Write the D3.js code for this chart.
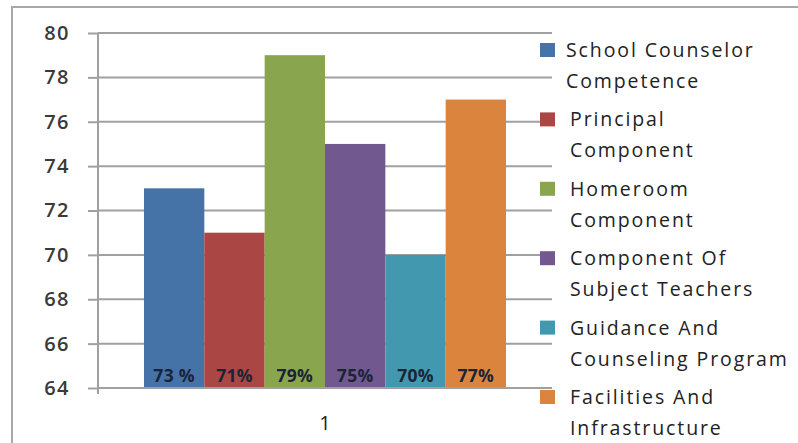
<!DOCTYPE html>
<html>
<head>
<meta charset="utf-8">
<script src="https://cdn.jsdelivr.net/npm/d3@7"></script>
<style>
  body { margin: 0; background: #fff; }
  svg { display: block; }
  text { font-family: "Open Sans", sans-serif; }
</style>
</head>
<body>
<svg width="798" height="443"></svg>
<script>
// data
const categories = ["1"];
const seriesNames = [
  ["School Counselor", "Competence"],
  ["Principal", "Component"],
  ["Homeroom", "Component"],
  ["Component Of", "Subject Teachers"],
  ["Guidance And", "Counseling Program"],
  ["Facilities And", "Infrastructure"]
];
const seriesValues = [73, 71, 79, 75, 70, 77];
const valueLabels = ["73 %", "71%", "79%", "75%", "70%", "77%"];
const colors = ["#4572A7", "#AA4643", "#89A54E", "#71588F", "#4198AF", "#DB843D"];
const yTicks = [64, 66, 68, 70, 72, 74, 76, 78, 80];

const svg = d3.select("svg");

/* -----------------------------
   Frame around the chart
----------------------------- */
svg.append("path")
  .attr("d", "M12,443 L12,7 L798,7")
  .attr("fill", "none")
  .attr("stroke", "#a8a8a8")
  .attr("stroke-width", 2);

/* -----------------------------
   Scales
----------------------------- */
const plotL = 98, plotR = 552, plotT = 33, plotB = 388;

const y = d3.scaleLinear().domain([64, 80]).range([plotB, plotT]);

const x0 = d3.scaleBand()
  .domain(categories)
  .range([plotL, plotR])
  .paddingOuter(0.127);

const x1 = d3.scaleBand()
  .domain(d3.range(seriesValues.length))
  .range([0, x0.bandwidth()]);

/* -----------------------------
   Grid + y axis
----------------------------- */
const yAxis = svg.append("g")
  .attr("transform", `translate(${plotL},0)`)
  .call(d3.axisLeft(y)
    .tickValues(yTicks)
    .tickSize(10)
    .tickPadding(18));

yAxis.select(".domain").remove();
yAxis.selectAll("line")
  .attr("stroke", "#a0a0a0")
  .attr("stroke-width", 2);
yAxis.selectAll("text")
  .attr("fill", "#3a3a3a")
  .style("font-size", "20px")
  .style("font-weight", "600")
  .style("letter-spacing", "1.5px");

svg.append("g")
  .selectAll("line")
  .data(yTicks)
  .enter()
  .append("line")
  .attr("x1", plotL)
  .attr("x2", plotR)
  .attr("y1", d => y(d))
  .attr("y2", d => y(d))
  .attr("stroke", "#a0a0a0")
  .attr("stroke-width", 2);

svg.append("line")
  .attr("x1", plotL).attr("x2", plotL)
  .attr("y1", plotT).attr("y2", plotB + 6)
  .attr("stroke", "#a0a0a0")
  .attr("stroke-width", 2);

/* -----------------------------
   Bars
----------------------------- */
const group = svg.append("g")
  .attr("transform", `translate(${x0(categories[0])},0)`);

group.selectAll("rect")
  .data(seriesValues)
  .enter()
  .append("rect")
  .attr("x", (d, i) => x1(i))
  .attr("y", d => y(d))
  .attr("width", x1.bandwidth())
  .attr("height", d => y(64) - y(d))
  .attr("fill", (d, i) => colors[i]);

group.selectAll(".val")
  .data(valueLabels)
  .enter()
  .append("text")
  .attr("class", "val")
  .attr("x", (d, i) => x1(i) + x1.bandwidth() / 2)
  .attr("y", plotB - 6)
  .attr("text-anchor", "middle")
  .attr("fill", "#1b2436")
  .style("font-size", "17.5px")
  .style("font-weight", "bold")
  .style("letter-spacing", "0.3px")
  .text(d => d);

// x axis line over bar bottoms
svg.append("line")
  .attr("x1", plotL).attr("x2", plotR - 6)
  .attr("y1", plotB).attr("y2", plotB)
  .attr("stroke", "#a0a0a0")
  .attr("stroke-width", 2);

svg.append("text")
  .attr("x", x0(categories[0]) + x0.bandwidth() / 2)
  .attr("y", 430)
  .attr("text-anchor", "middle")
  .attr("fill", "#222")
  .style("font-size", "20px")
  .text(categories[0]);

/* -----------------------------
   Legend
----------------------------- */
const legend = svg.append("g");

seriesNames.forEach((lines, i) => {
  const ly = 50 + i * 69.4;
  legend.append("rect")
    .attr("x", 540)
    .attr("y", ly - 7)
    .attr("width", 15)
    .attr("height", 14)
    .attr("fill", colors[i]);

  lines.forEach((t, j) => {
    legend.append("text")
      .attr("x", i === 0 ? 566 : 570)
      .attr("y", ly + 7 + j * 31)
      .attr("fill", "#222")
      .style("font-size", "19.5px")
      .style("letter-spacing", "1.9px")
      .text(t);
  });
});
</script>
</body>
</html>
